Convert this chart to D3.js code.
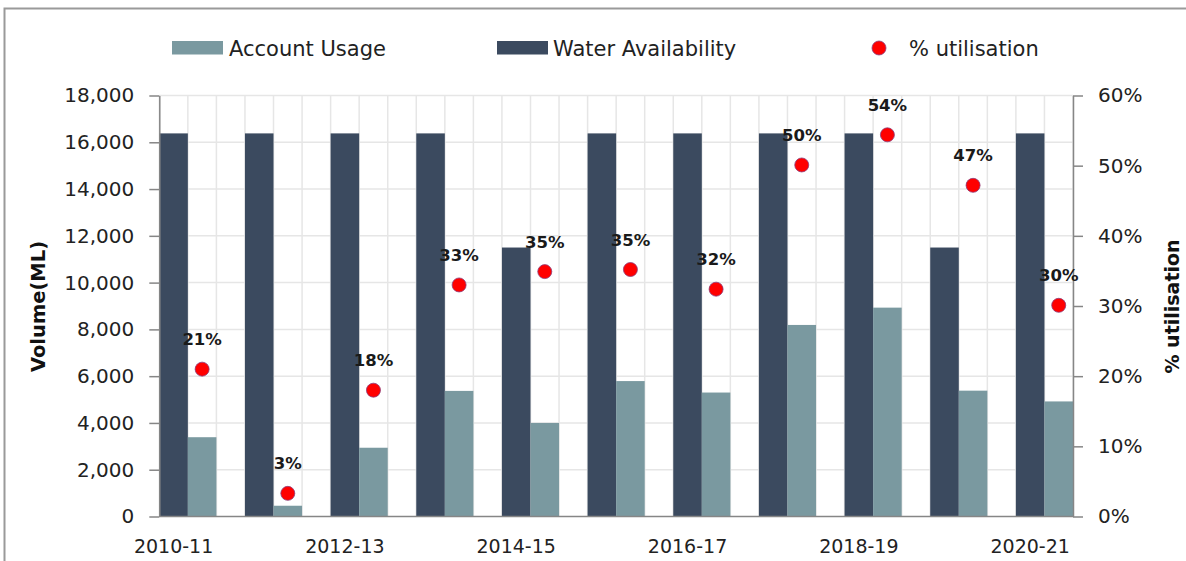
<!DOCTYPE html>
<html>
<head>
<meta charset="utf-8">
<script src="https://cdn.jsdelivr.net/npm/d3@7"></script>
<style>
  html, body { margin: 0; padding: 0; background: #fff; }
  svg { display: block; font-family: "DejaVu Sans", Verdana, sans-serif; }
</style>
</head>
<body>
<svg id="chart" width="1186" height="561"></svg>
<script>
// ---- data ----
const categories = ["2010-11","2011-12","2012-13","2013-14","2014-15","2015-16","2016-17","2017-18","2018-19","2019-20","2020-21"];
const waterAvailability = [16380,16380,16380,16380,11500,16380,16380,16380,16380,11500,16380];
const accountUsage = [3390,460,2940,5370,4000,5790,5300,8190,8930,5380,4920];
const utilisation = [0.21,0.033,0.18,0.33,0.349,0.352,0.324,0.501,0.544,0.472,0.301];
const seriesNames = ["Water Availability","Account Usage"];
const volumeTicks = [0,2000,4000,6000,8000,10000,12000,14000,16000,18000];
const pctTicks = [0,0.1,0.2,0.3,0.4,0.5,0.6];

const colors = {"Water Availability": "#3b4a5f", "Account Usage": "#7a99a0"};
const dotColor = "#ff0000";
const textColor = "#222";

const svg = d3.select("#chart");
const plotLeft = 159.3, plotRight = 1073, plotTop = 95.5, plotBottom = 516.5;

// outer border (only top/left visible)
svg.append("rect").attr("x", 4.5).attr("y", 8.5).attr("width", 1200).attr("height", 600)
  .attr("fill", "none").attr("stroke", "#9a9a9a").attr("stroke-width", 2);

const x0 = d3.scaleBand().domain(categories).range([plotLeft, plotRight]).paddingInner(1/3).paddingOuter(0);
const x1 = d3.scaleBand().domain(seriesNames).range([0, x0.bandwidth()]).padding(0);
const y = d3.scaleLinear().domain([0, 18000]).range([plotBottom, plotTop]);
const y2 = d3.scaleLinear().domain([0, 0.6]).range([plotBottom, plotTop]);

// gridlines
const unit = x0.step() / 3;
const gridX = d3.range(33).map(k => plotLeft + k * unit);
svg.append("g").selectAll("line").data(gridX).join("line")
  .attr("x1", d => d).attr("x2", d => d).attr("y1", plotTop).attr("y2", plotBottom)
  .attr("stroke", "#e6e6e6").attr("stroke-width", 1.5);
svg.append("g").selectAll("line").data(volumeTicks.slice(1)).join("line")
  .attr("x1", plotLeft).attr("x2", plotRight).attr("y1", d => y(d)).attr("y2", d => y(d))
  .attr("stroke", "#e6e6e6").attr("stroke-width", 1.5);

// bars
const rows = categories.map((c, i) => ({cat: c, "Water Availability": waterAvailability[i], "Account Usage": accountUsage[i], pct: utilisation[i]}));
const groups = svg.append("g").selectAll("g").data(rows).join("g")
  .attr("transform", d => `translate(${x0(d.cat)},0)`);
groups.selectAll("rect").data(d => seriesNames.map(s => ({s, v: d[s]}))).join("rect")
  .attr("x", d => x1(d.s)).attr("width", x1.bandwidth())
  .attr("y", d => y(d.v)).attr("height", d => y(0) - y(d.v))
  .attr("fill", d => colors[d.s]);

// axes
const axisColor = "#868686";
const yAxis = svg.append("g").attr("transform", `translate(${plotLeft},0)`)
  .call(d3.axisLeft(y).tickValues(volumeTicks).tickFormat(d3.format(",")).tickSize(10).tickSizeOuter(0).tickPadding(15));
const y2Axis = svg.append("g").attr("transform", `translate(${plotRight},0)`)
  .call(d3.axisRight(y2).tickValues(pctTicks).tickFormat(d3.format(".0%")).tickSize(10).tickSizeOuter(0).tickPadding(15));
[yAxis, y2Axis].forEach(a => {
  a.selectAll("path, line").attr("stroke", axisColor).attr("stroke-width", 1.5);
  a.selectAll("text").attr("font-size", 20).attr("fill", textColor).attr("font-family", "DejaVu Sans");
});
svg.append("line").attr("x1", plotLeft).attr("x2", plotRight).attr("y1", plotBottom).attr("y2", plotBottom)
  .attr("stroke", axisColor).attr("stroke-width", 1.5);

// x labels (every other category)
svg.append("g").selectAll("text").data(categories.filter((c, i) => i % 2 === 0)).join("text")
  .attr("x", d => x0(d) + x1("Water Availability") + x1.bandwidth() / 2)
  .attr("y", 553).attr("text-anchor", "middle").attr("font-size", 19).attr("fill", textColor)
  .text(d => d);

// utilisation dots and labels
const dotX = d => x0(d.cat) + x1("Account Usage") + x1.bandwidth() / 2;
svg.append("g").selectAll("circle").data(rows).join("circle")
  .attr("cx", dotX).attr("cy", d => y2(d.pct)).attr("r", 7)
  .attr("fill", dotColor).attr("stroke", "#8a3c7a").attr("stroke-width", 0.8);
svg.append("g").selectAll("text").data(rows).join("text")
  .attr("x", dotX).attr("y", d => y2(d.pct) - 24)
  .attr("text-anchor", "middle").attr("font-size", 16.5).attr("font-weight", "bold").attr("fill", "#1a1a1a")
  .text(d => d3.format(".0%")(d.pct));

// axis titles
svg.append("text").attr("transform", "translate(45,306.5) rotate(-90)")
  .attr("text-anchor", "middle").attr("font-size", 19.5).attr("font-weight", "bold").attr("fill", "#111")
  .text("Volume(ML)");
svg.append("text").attr("transform", "translate(1179,306.5) rotate(-90)")
  .attr("text-anchor", "middle").attr("font-size", 19).attr("font-weight", "bold").attr("fill", "#111")
  .text("% utilisation");

// legend
const legend = svg.append("g");
const legendItems = [
  {name: "Account Usage", type: "rect", sx: 172, tx: 229},
  {name: "Water Availability", type: "rect", sx: 497, tx: 553},
  {name: "% utilisation", type: "dot", sx: 879, tx: 909}
];
legendItems.forEach(it => {
  if (it.type === "rect") {
    legend.append("rect").attr("x", it.sx).attr("y", 41).attr("width", 51).attr("height", 13.5)
      .attr("fill", colors[it.name]);
  } else {
    legend.append("circle").attr("cx", it.sx).attr("cy", 48).attr("r", 7)
      .attr("fill", dotColor).attr("stroke", "#8a3c7a").attr("stroke-width", 0.8);
  }
  legend.append("text").attr("x", it.tx).attr("y", 56).attr("font-size", 21).attr("fill", textColor)
    .text(it.name);
});
</script>
</body>
</html>
